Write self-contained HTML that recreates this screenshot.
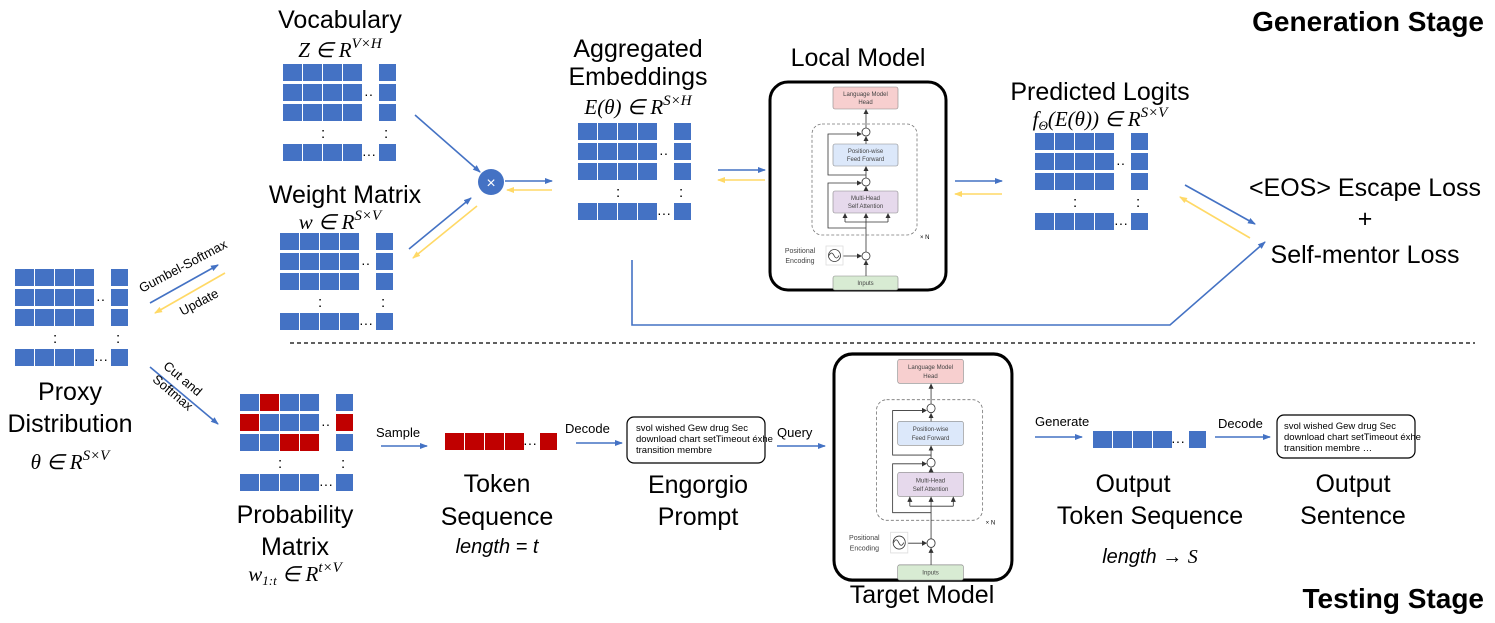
<!DOCTYPE html>
<html><head><meta charset="utf-8"><style>
html,body{margin:0;padding:0;background:#fff}
svg{display:block}
text{font-family:"Liberation Sans",sans-serif;fill:#000}
.t{font-size:25px;text-anchor:middle}
.m{font-family:"Liberation Serif",serif;font-style:italic;font-size:21px;text-anchor:middle}
.s{font-size:13px}
.tf{font-size:6px;text-anchor:middle;fill:#444}
</style></head><body>
<svg id="s" width="1495" height="623" viewBox="0 0 1495 623" xmlns="http://www.w3.org/2000/svg">
<defs>
<marker id="ab" markerWidth="8" markerHeight="8" refX="7" refY="4" orient="auto" markerUnits="userSpaceOnUse"><path d="M0,1 L8,4 L0,7z" fill="#4472C4"/></marker>
<marker id="ay" markerWidth="8" markerHeight="8" refX="7" refY="4" orient="auto" markerUnits="userSpaceOnUse"><path d="M0,1 L8,4 L0,7z" fill="#FFD966"/></marker>
<marker id="ak" markerWidth="5" markerHeight="5" refX="4" refY="2.5" orient="auto" markerUnits="userSpaceOnUse"><path d="M0,0 L5,2.5 L0,5z" fill="#333"/></marker>
<g id="tr">
<rect x="770" y="82" width="176" height="208" rx="18" fill="#fff" stroke="#000" stroke-width="3"/>
<rect x="812" y="124" width="105" height="111" rx="10" fill="none" stroke="#777" stroke-width="0.8" stroke-dasharray="3,2"/>
<rect x="833" y="87" width="65" height="22" rx="2" fill="#F7CFCF" stroke="#888" stroke-width="0.6"/>
<text class="tf" x="865.5" y="96">Language Model</text><text class="tf" x="865.5" y="104">Head</text>
<rect x="833" y="144" width="65" height="22" rx="2" fill="#DCE8FA" stroke="#888" stroke-width="0.6"/>
<text class="tf" x="865.5" y="153">Position-wise</text><text class="tf" x="865.5" y="161">Feed Forward</text>
<rect x="833" y="191" width="65" height="22" rx="2" fill="#E6D9EC" stroke="#888" stroke-width="0.6"/>
<text class="tf" x="865.5" y="200">Multi-Head</text><text class="tf" x="865.5" y="208">Self Attention</text>
<rect x="833" y="276" width="65" height="14" rx="2" fill="#D8EBD3" stroke="#888" stroke-width="0.6"/>
<text class="tf" x="865.5" y="285">Inputs</text>
<g stroke="#333" stroke-width="0.8" fill="none">
<circle cx="866" cy="132" r="4" fill="#fff"/><circle cx="866" cy="182" r="4" fill="#fff"/><circle cx="866" cy="256" r="4" fill="#fff"/>
<line x1="866" y1="276" x2="866" y2="261" marker-end="url(#ak)"/>
<line x1="866" y1="252" x2="866" y2="214" marker-end="url(#ak)"/>
<line x1="866" y1="191" x2="866" y2="187" marker-end="url(#ak)"/>
<line x1="866" y1="178" x2="866" y2="167" marker-end="url(#ak)"/>
<line x1="866" y1="144" x2="866" y2="137" marker-end="url(#ak)"/>
<line x1="866" y1="128" x2="866" y2="110" marker-end="url(#ak)"/>
<path d="M866,228 H828 V183 H861" marker-end="url(#ak)"/>
<path d="M866,175 H828 V134 H861" marker-end="url(#ak)"/>
<path d="M845,222 H888"/><line x1="845" y1="222" x2="845" y2="214" marker-end="url(#ak)"/><line x1="888" y1="222" x2="888" y2="214" marker-end="url(#ak)"/>
<line x1="843" y1="256" x2="861" y2="256" marker-end="url(#ak)"/>
<rect x="826" y="246" width="17" height="19" stroke="#ddd"/>
<circle cx="834.5" cy="255.5" r="6"/><path d="M829,255.5 q2.5,-5 5,0 q2.5,5 5,0"/>
</g>
<text x="920" y="239" style="font-size:6px">× N</text>
<text x="800" y="253" style="font-size:7px;text-anchor:middle;fill:#444">Positional</text>
<text x="800" y="263" style="font-size:7px;text-anchor:middle;fill:#444">Encoding</text>
</g>
</defs>
<g id="mats"></g>

<text x="1484" y="31" style="font-size:28px;font-weight:bold;text-anchor:end">Generation Stage</text>
<text x="1484" y="608" style="font-size:28px;font-weight:bold;text-anchor:end">Testing Stage</text>

<text class="t" x="340" y="28">Vocabulary</text>
<text class="m" x="340" y="57">Z ∈ R<tspan dy="-9" font-size="15">V×H</tspan></text>
<text class="t" x="345" y="203">Weight Matrix</text>
<text class="m" x="340" y="229">w ∈ R<tspan dy="-9" font-size="15">S×V</tspan></text>

<circle cx="491" cy="182" r="13" fill="#4472C4"/>
<text x="491" y="188" style="font-size:16px;fill:#fff;text-anchor:middle">×</text>

<g stroke-width="1.6" fill="none">
<line x1="415" y1="115" x2="480" y2="172" stroke="#4472C4" marker-end="url(#ab)"/>
<line x1="409" y1="249" x2="471" y2="198" stroke="#4472C4" marker-end="url(#ab)"/>
<line x1="477" y1="206" x2="413" y2="258" stroke="#FFD966" marker-end="url(#ay)"/>
<line x1="505" y1="181" x2="552" y2="181" stroke="#4472C4" marker-end="url(#ab)"/>
<line x1="552" y1="190" x2="507" y2="190" stroke="#FFD966" marker-end="url(#ay)"/>
<line x1="718" y1="170" x2="765" y2="170" stroke="#4472C4" marker-end="url(#ab)"/>
<line x1="765" y1="180" x2="718" y2="180" stroke="#FFD966" marker-end="url(#ay)"/>
<line x1="955" y1="181" x2="1002" y2="181" stroke="#4472C4" marker-end="url(#ab)"/>
<line x1="1002" y1="194" x2="955" y2="194" stroke="#FFD966" marker-end="url(#ay)"/>
<line x1="1185" y1="185" x2="1255" y2="224" stroke="#4472C4" marker-end="url(#ab)"/>
<line x1="1250" y1="238" x2="1180" y2="197" stroke="#FFD966" marker-end="url(#ay)"/>
<path d="M632,260 V325 H1170 L1265,242" stroke="#4472C4" marker-end="url(#ab)"/>
<line x1="150" y1="303" x2="218" y2="265" stroke="#4472C4" marker-end="url(#ab)"/>
<line x1="225" y1="273" x2="155" y2="313" stroke="#FFD966" marker-end="url(#ay)"/>
<line x1="150" y1="367" x2="218" y2="424" stroke="#4472C4" marker-end="url(#ab)"/>
<line x1="381" y1="446" x2="427" y2="446" stroke="#4472C4" marker-end="url(#ab)"/>
<line x1="576" y1="443" x2="622" y2="443" stroke="#4472C4" marker-end="url(#ab)"/>
<line x1="777" y1="446" x2="825" y2="446" stroke="#4472C4" marker-end="url(#ab)"/>
<line x1="1035" y1="437" x2="1082" y2="437" stroke="#4472C4" marker-end="url(#ab)"/>
<line x1="1215" y1="437" x2="1270" y2="437" stroke="#4472C4" marker-end="url(#ab)"/>
</g>
<line x1="290" y1="343" x2="1475" y2="343" stroke="#000" stroke-width="1.2" stroke-dasharray="4,3"/>

<text class="t" x="638" y="57">Aggregated</text>
<text class="t" x="638" y="85">Embeddings</text>
<text class="m" x="638" y="114">E(θ) ∈ R<tspan dy="-9" font-size="15">S×H</tspan></text>
<text class="t" x="858" y="66">Local Model</text>
<text class="t" x="1100" y="100">Predicted Logits</text>
<text class="m" x="1100" y="126">f<tspan font-size="13" dy="4">Θ</tspan><tspan dy="-4">(E(θ)) ∈ R</tspan><tspan dy="-9" font-size="15">S×V</tspan></text>
<text class="t" x="1365" y="196">&lt;EOS&gt; Escape Loss</text>
<text class="t" x="1365" y="227">+</text>
<text class="t" x="1365" y="263">Self-mentor Loss</text>

<use href="#tr"/>
<use href="#tr" transform="translate(834,354) scale(1.011,1.087) translate(-770,-82)"/>

<text class="s" transform="translate(185,270) rotate(-28)" text-anchor="middle">Gumbel-Softmax</text>
<text class="s" transform="translate(201,306) rotate(-28)" text-anchor="middle">Update</text>
<text class="s" transform="translate(180,382) rotate(40)" text-anchor="middle">Cut and</text>
<text class="s" transform="translate(170,396) rotate(40)" text-anchor="middle">Softmax</text>

<text class="t" x="70" y="400">Proxy</text>
<text class="t" x="70" y="432">Distribution</text>
<text class="m" x="70" y="469">θ ∈ R<tspan dy="-9" font-size="15">S×V</tspan></text>
<text class="t" x="295" y="523">Probability</text>
<text class="t" x="295" y="555">Matrix</text>
<text class="m" x="295" y="581">w<tspan font-size="13" dy="4">1:t</tspan><tspan dy="-4"> ∈ R</tspan><tspan dy="-9" font-size="15">t×V</tspan></text>
<text class="s" x="376" y="437">Sample</text>
<text class="t" x="497" y="492">Token</text>
<text class="t" x="497" y="525">Sequence</text>
<text class="t" x="497" y="553" style="font-style:italic;font-size:20px">length = t</text>
<text class="s" x="565" y="433">Decode</text>
<rect x="627" y="417" width="138" height="46" rx="7" fill="#fff" stroke="#000" stroke-width="1.2"/>
<text x="636" y="431" style="font-size:9.5px">svol wished Gew drug Sec</text>
<text x="636" y="442" style="font-size:9.5px">download chart setTimeout éxhe</text>
<text x="636" y="453" style="font-size:9.5px">transition membre</text>
<text class="t" x="698" y="493">Engorgio</text>
<text class="t" x="698" y="525">Prompt</text>
<text class="s" x="777" y="437">Query</text>
<text class="t" x="922" y="603">Target Model</text>
<text class="s" x="1035" y="426">Generate</text>
<text class="t" x="1133" y="492">Output</text>
<text class="t" x="1150" y="524">Token Sequence</text>
<text class="t" x="1150" y="563" style="font-style:italic;font-size:20px">length → <tspan font-family="Liberation Serif">S</tspan></text>
<text class="s" x="1218" y="428">Decode</text>
<rect x="1277" y="415" width="138" height="43" rx="7" fill="#fff" stroke="#000" stroke-width="1.2"/>
<text x="1284" y="429" style="font-size:9.5px">svol wished Gew drug Sec</text>
<text x="1284" y="440" style="font-size:9.5px">download chart setTimeout éxhe</text>
<text x="1284" y="451" style="font-size:9.5px">transition membre …</text>
<text class="t" x="1353" y="492">Output</text>
<text class="t" x="1353" y="524">Sentence</text>
</svg>
<script>
var B="#4472C4",R="#C00000",g=document.getElementById("mats"),h="";
function r(x,y,w,hh,c){h+='<rect x="'+x+'" y="'+y+'" width="'+w+'" height="'+hh+'" fill="'+c+'"/>';}
function t(x,y,s){h+='<text x="'+x+'" y="'+y+'" style="font-size:14px">'+s+'</text>';}
function mat(x,y,red){for(var i=0;i<4;i++){var ry=i<3?y+i*20:y+80;for(var j=0;j<5;j++){var cx=j<4?x+j*20:x+96;var w=j<4?19:17;var c=(red&&red.indexOf(i+","+j)>=0)?R:B;r(cx,ry,w,17,c);}}
t(x+81,y+35,"··");t(x+79,y+95,"···");h+='<text x="'+(x+38)+'" y="'+(y+74)+'" style="font-size:15px">:</text><text x="'+(x+101)+'" y="'+(y+74)+'" style="font-size:15px">:</text>';}
mat(283,64);mat(280,233);mat(15,269);mat(578,123);mat(1035,133);
mat(240,394,["0,1","1,0","1,4","2,2","2,3"]);
for(var j=0;j<4;j++)r(445+j*20,433,19,17,R);r(540,433,17,17,R);t(523,448,"···");
for(var j=0;j<4;j++)r(1093+j*20,431,19,17,B);r(1189,431,17,17,B);t(1171,446,"···");
g.innerHTML=h;
</script>
</body></html>
